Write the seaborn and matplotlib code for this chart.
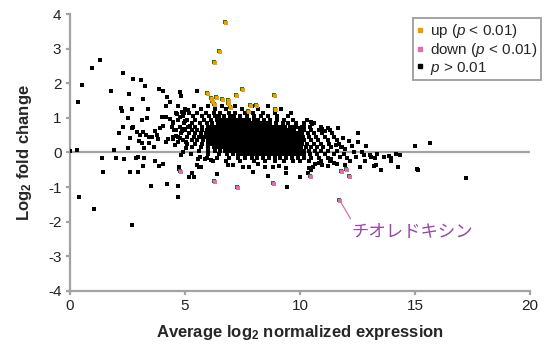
import matplotlib
matplotlib.use("Agg")
import matplotlib.pyplot as plt
import matplotlib.transforms as mtransforms
from matplotlib.lines import Line2D
import pandas as pd
import seaborn as sns

# significant genes (avg log2 expression, log2 fold change)
up_points = [(6.78, 3.74), (6.52, 2.90), (6.30, 2.58), (6.00, 1.68), (6.17, 1.54),
             (6.22, 1.45), (6.39, 1.57), (6.30, 1.36), (6.65, 1.51), (6.91, 1.48),
             (6.91, 1.39), (7.00, 1.30), (7.26, 1.62), (7.52, 1.80), (7.87, 1.33),
             (8.13, 1.33), (7.78, 1.16), (8.91, 1.62), (8.96, 1.22)]
down_points = [(4.83, -0.55), (6.30, -0.84), (7.30, -1.04), (8.87, -0.90), (10.48, -0.72),
               (11.83, -0.55), (12.04, -0.52), (12.17, -0.70), (11.74, -1.39)]
thioredoxin = (11.74, -1.39)

# scattered non-significant genes outside the dense cloud
sparse_points = [
    (1.30, 2.67), (0.96, 2.43), (0.52, 1.94), (0.35, 1.45), (2.30, 2.29), (2.74, 2.12),
    (3.09, 2.09), (3.26, 1.91), (1.78, 1.77), (2.57, 1.68), (3.17, 1.54), (3.87, 1.83),
    (4.04, 1.77), (4.22, 1.59), (4.35, 1.45), (4.78, 1.74), (4.83, 1.62), (5.52, 1.77),
    (2.22, 1.28), (2.26, 1.19), (2.70, 1.25), (3.39, 1.25), (4.17, 1.33), (4.00, 1.04),
    (2.52, 0.99), (2.30, 0.75), (3.13, 0.93), (3.35, 0.99), (2.70, 0.70), (2.74, 0.75),
    (2.13, 0.55), (2.91, 0.58), (3.04, 0.52), (3.17, 0.58), (3.30, 0.52), (3.43, 0.46),
    (2.61, 0.43), (3.00, 0.32), (2.52, 0.14), (3.13, 0.26), (3.22, 0.12), (3.43, 0.26),
    (3.65, 0.17), (3.57, 0.46), (3.70, 0.61), (3.78, 0.52), (3.91, 0.72), (3.83, 0.38),
    (4.04, 0.78), (4.17, 1.04), (4.35, 0.96), (4.43, 0.75), (4.52, 0.64), (4.61, 0.49),
    (4.17, 0.29), (4.48, 0.38), (4.57, 0.23), (4.78, 1.04), (4.87, 1.16), (4.96, 0.67),
    (4.78, 0.43), (4.70, 0.29), (5.04, 0.14), (5.00, 0.90), (5.13, 1.22), (5.22, 0.78),
    (4.48, 0.87), (4.65, 1.10), (4.96, 1.13), (4.87, 0.61), (5.09, 0.46), (4.48, 0.46),
    (4.26, 0.38), (5.04, 0.29), (5.30, 0.17), (4.91, 0.00), (5.26, -0.03), (5.65, -0.12),
    (0.00, 0.03), (0.30, 0.06), (1.91, 0.06), (1.39, -0.17), (2.00, -0.17), (2.35, -0.20),
    (2.87, -0.17), (2.96, -0.12), (3.22, -0.17), (3.17, -0.38), (3.70, -0.26), (3.87, -0.38),
    (4.04, -0.32), (1.43, -0.55), (2.61, -0.55), (2.96, -0.55), (3.52, -0.96), (4.22, -0.90),
    (4.70, -0.96), (4.70, -1.28), (0.39, -1.28), (1.04, -1.62), (2.70, -2.09), (4.83, -0.06),
    (4.74, -0.41), (4.74, -0.49), (5.30, -0.58), (5.39, -0.72), (5.52, -0.35), (5.57, -0.20),
    (5.87, -0.20), (5.70, -0.43), (6.13, -0.23), (6.39, -0.61), (6.87, -0.35), (7.52, -0.43),
    (7.96, -0.55), (8.61, -0.67), (8.83, -0.43), (9.39, -0.46), (9.39, -0.58), (10.00, -0.70),
    (9.43, -1.01), (10.39, -0.46), (10.48, -0.52), (10.35, -0.58), (10.83, -0.29),
    (10.65, -0.32), (10.96, -0.35), (10.57, -0.43), (5.61, -0.41), (5.96, -0.17),
    (6.22, -0.26), (5.17, -0.70), (7.09, -0.35), (7.78, -0.43), (8.48, -0.41),
    (8.17, -0.33), (9.09, -0.38),
    (13.52, -0.52), (15.13, -0.52), (17.22, -0.75), (15.65, 0.26), (15.00, 0.20),
    (14.26, -0.43), (15.09, -0.49), (14.35, -0.06), (14.17, -0.03), (13.65, -0.12),
    (13.87, -0.09), (13.35, -0.03), (13.26, -0.17), (13.30, -0.35), (13.22, -0.38),
    (13.09, -0.12), (12.87, 0.20), (12.52, 0.55), (12.52, 0.29), (12.70, 0.00),
    (12.78, -0.06), (12.61, -0.43), (12.83, -0.26), (13.96, -0.17), (13.96, -0.26),
    (13.04, -0.06), (12.43, -0.12), (12.35, 0.00), (12.17, -0.26), (11.96, 0.09),
    (11.65, 0.72), (11.22, 0.70), (11.09, 0.61), (10.96, 0.67), (10.48, 0.87), (10.52, 0.81),
    (10.17, 0.75), (10.00, 0.72), (9.70, 0.75), (9.35, 0.67), (11.87, 0.43), (11.83, 0.17),
    (11.57, 0.23), (11.74, -0.14), (11.48, -0.29), (11.22, -0.38), (11.96, -0.35),
    (12.13, 0.32), (12.26, 0.20), (11.35, -0.20), (11.61, -0.32), (12.04, -0.17),
]

# dense cloud, read row by row: log2 fold change of the row -> avg expression of each square
row_p135 = [4.7, 5.4, 6.0, 6.6, 7.2, 7.9, 8.6]
row_p125 = [5.0, 5.7, 6.3, 6.8, 7.5, 8.2, 9.2]
row_p115 = [4.6, 5.2, 5.55, 5.9, 6.25, 6.55, 6.9, 7.2, 7.6, 7.95, 8.4, 8.9, 9.6]
row_p105 = [4.9, 5.35, 5.75, 6.05, 6.3, 6.5, 6.7, 6.95, 7.15, 7.4, 7.7, 8.0, 8.3, 8.6,
            9.0, 9.5]
row_p095 = [4.7, 5.1, 5.45, 5.85, 6.15, 6.4, 6.55, 6.7, 6.85, 7.0, 7.15, 7.3, 7.45,
            7.6, 7.8, 8.0, 8.2, 8.45, 8.7, 9.0, 9.3, 9.7, 10.3]
row_p085 = [4.5, 4.95, 5.3, 5.65, 5.95, 6.2, 6.45, 6.6, 6.75, 6.9, 7.05, 7.2, 7.35, 7.5,
            7.65, 7.8, 7.95, 8.1, 8.25, 8.4, 8.55, 8.7, 8.95, 9.25, 9.5, 9.85, 10.2, 10.6]
row_p075 = [4.8, 5.15, 5.45, 5.75, 6.0, 6.2, 6.35, 6.5, 6.65, 6.8, 6.95, 7.1, 7.25,
            7.4, 7.55, 7.7, 7.85, 8.0, 8.15, 8.3, 8.45, 8.6, 8.75, 8.9, 9.05, 9.2, 9.35,
            9.55, 9.85, 10.1, 10.45, 10.9]
row_p065 = [4.6, 5.0, 5.3, 5.55, 5.75, 5.95, 6.1, 6.25, 6.4, 6.55, 6.7, 6.85, 7.0, 7.15,
            7.3, 7.45, 7.6, 7.75, 7.9, 8.05, 8.2, 8.35, 8.5, 8.65, 8.8, 8.95, 9.1, 9.25,
            9.4, 9.55, 9.75, 10.0, 10.2, 10.5, 10.85, 11.3]
row_p055 = [4.85, 5.2, 5.45, 5.7, 5.9, 6.05, 6.2, 6.35, 6.5, 6.65, 6.8, 6.95, 7.1, 7.25,
            7.4, 7.55, 7.7, 7.85, 8.0, 8.15, 8.3, 8.45, 8.6, 8.75, 8.9, 9.05, 9.2, 9.35,
            9.5, 9.65, 9.8, 9.95, 10.1, 10.35, 10.6, 10.95, 11.4]
row_p045 = [4.7, 5.1, 5.4, 5.6, 5.8, 5.95, 6.1, 6.25, 6.4, 6.55, 6.7, 6.85, 7.0, 7.15,
            7.3, 7.45, 7.6, 7.75, 7.9, 8.05, 8.2, 8.35, 8.5, 8.65, 8.8, 8.95, 9.1, 9.25,
            9.4, 9.55, 9.7, 9.85, 10.0, 10.15, 10.4, 10.7, 11.1, 11.5]
row_p035 = [4.9, 5.3, 5.55, 5.8, 6.0, 6.15, 6.3, 6.45, 6.6, 6.75, 6.9, 7.05, 7.2, 7.35,
            7.5, 7.65, 7.8, 7.95, 8.1, 8.25, 8.4, 8.55, 8.7, 8.85, 9.0, 9.15, 9.3, 9.45,
            9.6, 9.75, 9.9, 10.05, 10.2, 10.5, 10.8, 11.2, 11.6]
row_p025 = [5.1, 5.45, 5.75, 6.0, 6.2, 6.35, 6.5, 6.65, 6.8, 6.95, 7.1, 7.25, 7.4, 7.55,
            7.7, 7.85, 8.0, 8.15, 8.3, 8.45, 8.6, 8.75, 8.9, 9.05, 9.2, 9.35, 9.5, 9.65,
            9.8, 9.95, 10.1, 10.3, 10.6, 10.9, 11.25, 11.7]
row_p015 = [5.3, 5.7, 6.0, 6.25, 6.45, 6.6, 6.75, 6.9, 7.05, 7.2, 7.35, 7.5, 7.65, 7.8,
            7.95, 8.1, 8.25, 8.4, 8.55, 8.7, 8.85, 9.0, 9.15, 9.3, 9.45, 9.6, 9.75, 9.9,
            10.05, 10.25, 10.5, 10.75, 11.0, 11.35, 11.8]
row_p005 = [5.6, 6.0, 6.3, 6.55, 6.75, 6.9, 7.05, 7.2, 7.35, 7.5, 7.65, 7.8, 7.95, 8.1,
            8.25, 8.4, 8.55, 8.7, 8.85, 9.0, 9.15, 9.3, 9.45, 9.6, 9.75, 9.9, 10.05, 10.2,
            10.4, 10.65, 10.9, 11.2, 11.6]
row_m005 = [6.0, 6.5, 6.85, 7.1, 7.3, 7.45, 7.6, 7.75, 7.9, 8.05, 8.2, 8.35, 8.5, 8.65,
            8.8, 8.95, 9.1, 9.25, 9.4, 9.55, 9.7, 9.85, 10.0, 10.2, 10.45, 10.75, 11.1,
            11.5, 11.9]
row_m015 = [6.4, 6.9, 7.3, 7.6, 7.9, 8.15, 8.4, 8.65, 8.9, 9.15, 9.4, 9.65, 9.9, 10.2,
            10.5, 10.85, 11.2]
row_m025 = [6.8, 7.4, 8.0, 8.5, 8.9, 9.3, 9.7, 10.0, 10.4, 10.9, 11.3]

cloud_rows = [(1.35, row_p135), (1.25, row_p125), (1.15, row_p115), (1.05, row_p105),
              (0.95, row_p095), (0.85, row_p085), (0.75, row_p075), (0.65, row_p065),
              (0.55, row_p055), (0.45, row_p045), (0.35, row_p035), (0.25, row_p025),
              (0.15, row_p015), (0.05, row_p005), (-0.05, row_m005), (-0.15, row_m015),
              (-0.25, row_m025)]

ns = list(sparse_points)
for fc, xs in cloud_rows:
    ns += [(x, fc) for x in xs]
df_ns = pd.DataFrame(ns, columns=["expr", "fc"])
df_up = pd.DataFrame(up_points, columns=["expr", "fc"])
df_down = pd.DataFrame(down_points, columns=["expr", "fc"])

sns.set_theme(style="ticks")
plt.rcParams["font.family"] = ["Liberation Sans", "DejaVu Sans"]
plt.rcParams["axes.unicode_minus"] = False
plt.rcParams["mathtext.fontset"] = "custom"
plt.rcParams["mathtext.rm"] = "Liberation Sans"
plt.rcParams["mathtext.it"] = "Liberation Sans:italic"
plt.rcParams["mathtext.bf"] = "Liberation Sans:bold"

ORANGE = "#f39c00"
PINK = "#de6fae"
GREEN = "#1d7a3c"
GREY = "#a3a3a3"

fig, ax = plt.subplots(figsize=(5.45, 3.45), dpi=100)
fig.subplots_adjust(left=0.128, right=0.9725, bottom=0.157, top=0.959)

ax.axhline(0, color=GREY, lw=1.6, zorder=1)

sns.scatterplot(data=df_ns, x="expr", y="fc", marker="s", s=8.5, color="black",
                linewidth=0, ax=ax, zorder=3, legend=False)

# the coloured squares have a dark green one peeking out from behind
shadow = ax.transData + mtransforms.ScaledTranslation(-1 / 100, 1 / 100, fig.dpi_scale_trans)
for d, c in [(df_up, ORANGE), (df_down, PINK)]:
    sns.scatterplot(data=d, x="expr", y="fc", marker="s", s=6, color=GREEN,
                    linewidth=0, ax=ax, zorder=4, legend=False, transform=shadow)
    sns.scatterplot(data=d, x="expr", y="fc", marker="s", s=6, color=c,
                    linewidth=0, ax=ax, zorder=5, legend=False)

ax.annotate("チオレドキシン", xy=thioredoxin, xytext=(8, -22), textcoords="offset points",
            fontsize=12.5, color="#9a44a8", family=["Noto Sans CJK JP", "DejaVu Sans"],
            ha="left", va="center",
            arrowprops=dict(arrowstyle="-", color=PINK, lw=0.9, shrinkA=0, shrinkB=2,
                            relpos=(0.02, 0.9)))

ax.set_xlim(0, 20)
ax.set_ylim(-4, 4)
ax.set_xticks([0, 5, 10, 15, 20])
ax.set_yticks([-4, -3, -2, -1, 0, 1, 2, 3, 4])
ax.set_xlabel(r"Average log$_\mathbf{2}$ normalized expression", fontsize=12,
              fontweight="bold", labelpad=7)
ax.set_ylabel(r"Log$_\mathbf{2}$ fold change", fontsize=12, fontweight="bold", labelpad=10)

sns.despine(ax=ax)
for side in ["left", "bottom"]:
    ax.spines[side].set_color(GREY)
    ax.spines[side].set_linewidth(1.6)
ax.tick_params(axis="both", colors=GREY, width=1.6, length=3, labelsize=11,
               labelcolor="#222222", pad=3)

handles = [
    Line2D([], [], marker="s", ls="", color=ORANGE, markersize=2.5),
    Line2D([], [], marker="s", ls="", color=PINK, markersize=2.5),
    Line2D([], [], marker="s", ls="", color="black", markersize=2.5),
]
labels = [r"up ($\it{p}$ < 0.01)", r"down ($\it{p}$ < 0.01)", r"$\it{p}$ > 0.01"]
leg = ax.legend(handles, labels, loc="upper left", bbox_to_anchor=(0.746, 0.985),
                borderaxespad=0, fontsize=11, frameon=True, fancybox=False,
                handlelength=0.4, handletextpad=0.45, labelspacing=0.05,
                borderpad=0.25, framealpha=1)
leg.get_frame().set_edgecolor(GREY)
leg.get_frame().set_linewidth(1.4)
leg.set_clip_on(False)

fig.savefig("out.png", dpi=100)
